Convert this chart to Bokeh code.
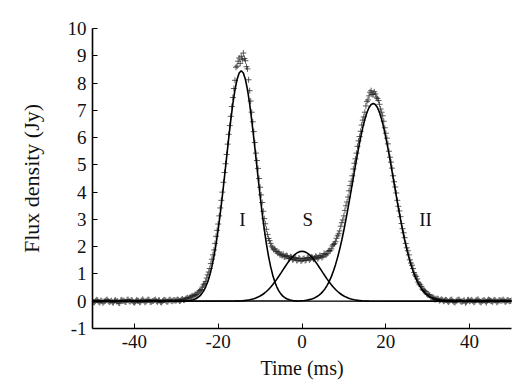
import numpy as np
from bokeh.plotting import figure
from bokeh.models import Range1d, FixedTicker, Label
from bokeh.embed import file_html
from bokeh.resources import INLINE

# ---- data (samples every 0.25 ms) ----
data_time = np.arange(-50, 50.001, 0.25)
data_flux = [
    # -50 .. -30.25
    0.02, -0.03, -0.04, 0.01, 0.05, 0.03, -0.02, -0.05, 0.03, 0.00,
    -0.06, -0.02, 0.01, 0.04, 0.06, 0.01, -0.03, -0.01, 0.02, -0.04,
    -0.05, 0.02, 0.04, -0.01, 0.00, -0.06, -0.07, 0.03, 0.05, 0.01,
    0.02, -0.02, -0.03, 0.05, 0.06, 0.00, -0.01, 0.04, 0.03, -0.03,
    -0.06, -0.01, 0.04, 0.02, 0.01, -0.04, -0.02, 0.03, 0.07, 0.02,
    -0.04, -0.01, 0.02, 0.06, 0.05, -0.02, -0.03, 0.01, 0.01, 0.04,
    0.06, 0.00, -0.02, 0.03, 0.03, -0.03, -0.05, 0.01, 0.04, 0.05,
    0.02, -0.02, -0.01, 0.04, 0.06, 0.02, 0.00, 0.03, 0.04, 0.02,
    # -30 .. 34
    0.03, 0.06, 0.05, 0.01, 0.02, 0.06, 0.08, 0.04,
    0.05, 0.09, 0.11, 0.13, 0.09, 0.14, 0.16, 0.20,
    0.18, 0.21, 0.25, 0.23, 0.27, 0.33, 0.38, 0.39,
    0.43, 0.52, 0.60, 0.64, 0.72, 0.85, 0.97, 1.07,
    1.20, 1.38, 1.54, 1.70, 1.88, 2.12, 2.38, 2.60,
    2.83, 3.13, 3.42, 3.70, 4.00, 4.36, 4.72, 5.04,
    5.38, 5.76, 6.12, 6.44, 6.78, 7.14, 7.47, 7.80,
    8.10, 8.58, 8.62, 8.80, 8.92, 8.72, 8.98, 8.86,
    9.10, 8.90, 8.82, 8.60, 8.52, 8.12, 7.72, 7.34,
    6.93, 6.58, 6.22, 5.82, 5.43, 5.16, 4.87, 4.50,
    4.18, 3.90, 3.62, 3.30, 3.03, 2.84, 2.64, 2.45,
    2.30, 2.22, 2.12, 2.02, 1.96, 1.89, 1.92, 1.84,
    1.82, 1.76, 1.80, 1.70, 1.72, 1.67, 1.73, 1.62,
    1.64, 1.68, 1.66, 1.56, 1.58, 1.63, 1.61, 1.52,
    1.54, 1.60, 1.57, 1.49, 1.51, 1.58, 1.56, 1.47,
    1.50, 1.55, 1.57, 1.49, 1.52, 1.60, 1.58, 1.51,
    1.55, 1.62, 1.60, 1.54, 1.58, 1.65, 1.62, 1.56,
    1.60, 1.68, 1.66, 1.60, 1.64, 1.75, 1.72, 1.69,
    1.74, 1.83, 1.86, 1.85, 1.92, 2.03, 2.08, 2.11,
    2.18, 2.31, 2.40, 2.47, 2.58, 2.75, 2.88, 2.98,
    3.13, 3.33, 3.50, 3.64, 3.82, 4.05, 4.24, 4.40,
    4.60, 4.85, 5.06, 5.22, 5.43, 5.68, 5.88, 6.04,
    6.23, 6.46, 6.64, 6.76, 6.93, 7.16, 7.32, 7.38,
    7.53, 7.66, 7.72, 7.58, 7.60, 7.68, 7.60, 7.48,
    7.43, 7.36, 7.22, 7.05, 6.93, 6.80, 6.60, 6.36,
    6.16, 5.98, 5.77, 5.50, 5.28, 5.10, 4.88, 4.60,
    4.38, 4.19, 3.97, 3.70, 3.48, 3.31, 3.10, 2.85,
    2.66, 2.51, 2.33, 2.12, 1.96, 1.85, 1.70, 1.52,
    1.40, 1.32, 1.20, 1.05, 0.96, 0.91, 0.82, 0.70,
    0.63, 0.60, 0.54, 0.44, 0.40, 0.39, 0.35, 0.27,
    0.24, 0.25, 0.22, 0.15, 0.13, 0.15, 0.12, 0.06,
    0.07, 0.10, 0.08, 0.02, 0.04, 0.07, 0.05, 0.00,
    0.02,
    # 34.25 .. 50
    0.05, 0.04, 0.00, -0.03, 0.02, 0.05, 0.06, 0.01, -0.03, -0.05,
    0.00, 0.03, 0.05, 0.06, 0.01, -0.02, -0.01, 0.02, 0.03, -0.06,
    -0.02, 0.04, 0.05, 0.00, 0.02, 0.05, 0.01, -0.04, -0.02, 0.03,
    0.05, 0.07, 0.02, -0.03, -0.04, 0.01, 0.03, 0.04, 0.00, -0.05,
    0.02, 0.06, 0.04, 0.02, 0.00, -0.02, 0.03, 0.05, 0.02, -0.04,
    -0.01, 0.03, 0.04, 0.01, 0.03, 0.06, 0.02, -0.03, 0.00, 0.04,
    0.03, 0.00, 0.01, 0.03,
]
assert len(data_flux) == len(data_time), (len(data_flux), len(data_time))

# component I (fitted curve)
comp_I_time = np.concatenate(([-50.0], np.arange(-28, -0.5, 0.5), [50.0]))
comp_I_flux = [0.0,
    0.007, 0.012, 0.020, 0.033, 0.051, 0.079, 0.120, 0.178, 0.260, 0.371,
    0.520, 0.715, 0.965, 1.276, 1.656, 2.107, 2.631, 3.221, 3.868, 4.558,
    5.268, 5.971, 6.639, 7.242, 7.748, 8.131, 8.369,
    8.450,
    8.369, 8.131, 7.748, 7.242, 6.639, 5.971, 5.268, 4.558, 3.868, 3.221,
    2.631, 2.107, 1.656, 1.276, 0.965, 0.715, 0.520, 0.371, 0.260, 0.178,
    0.120, 0.079, 0.051, 0.033, 0.020, 0.012, 0.007,
    0.0]

# component S
comp_S_time = np.concatenate(([-50.0], np.arange(-16, 16.5, 0.5), [50.0]))
comp_S_flux = [0.0,
    0.006, 0.008, 0.011, 0.016, 0.022, 0.030, 0.040, 0.053, 0.070, 0.092,
    0.118, 0.151, 0.190, 0.237, 0.293, 0.357, 0.430, 0.512, 0.604, 0.703,
    0.810, 0.923, 1.039, 1.157, 1.274, 1.387, 1.493, 1.589, 1.672, 1.739,
    1.789, 1.820,
    1.830,
    1.820, 1.789, 1.739, 1.672, 1.589, 1.493, 1.387, 1.274, 1.157, 1.039,
    0.923, 0.810, 0.703, 0.604, 0.512, 0.430, 0.357, 0.293, 0.237, 0.190,
    0.151, 0.118, 0.092, 0.070, 0.053, 0.040, 0.030, 0.022, 0.016, 0.011,
    0.008, 0.006,
    0.0]

# component II
comp_II_time = np.concatenate(([-50.0], np.arange(-1, 35.5, 0.5), [50.0]))
comp_II_flux = [0.0,
    0.008, 0.012, 0.018, 0.025, 0.035, 0.049, 0.067, 0.091, 0.122, 0.163,
    0.214, 0.280, 0.361, 0.461, 0.583, 0.729, 0.903, 1.106, 1.341, 1.609,
    1.911, 2.246, 2.612, 3.007, 3.425, 3.861, 4.307, 4.755, 5.195, 5.617,
    6.010, 6.365, 6.670, 6.918, 7.101, 7.212,
    7.250,
    7.212, 7.101, 6.918, 6.670, 6.365, 6.010, 5.617, 5.195, 4.755, 4.307,
    3.861, 3.425, 3.007, 2.612, 2.246, 1.911, 1.609, 1.341, 1.106, 0.903,
    0.729, 0.583, 0.461, 0.361, 0.280, 0.214, 0.163, 0.122, 0.091, 0.067,
    0.049, 0.035, 0.025, 0.018, 0.012, 0.008,
    0.0]

comp_labels = ["I", "S", "II"]
comp_label_x = [-14.2, 1.4, 29.5]
comp_label_y = [3.0, 3.0, 3.0]

x_ticks = [-40, -20, 0, 20, 40]
y_ticks = list(range(-1, 11))

FONT = "Liberation Serif"

p = figure(frame_width=419, frame_height=300, x_range=Range1d(-50, 50), y_range=Range1d(-1, 10),
           output_backend="svg", toolbar_location=None,
           min_border_left=92, min_border_right=6, min_border_top=28, min_border_bottom=54)
p.outline_line_color = None
p.grid.visible = False
p.background_fill_color = "white"
p.border_fill_color = "white"

p.scatter(data_time, data_flux, marker="cross", size=6, line_color="#1e1e1e",
          line_width=0.9, line_alpha=0.8)

for t, f in [(comp_I_time, comp_I_flux), (comp_S_time, comp_S_flux), (comp_II_time, comp_II_flux)]:
    p.line(t, f, line_color="black", line_width=1.6)

for lab, lx, ly in zip(comp_labels, comp_label_x, comp_label_y):
    p.add_layout(Label(x=lx, y=ly, text=lab, text_font=FONT, text_font_size="19px",
                       text_align="center", text_baseline="middle", text_color="#111111"))

for ax in (p.xaxis[0], p.yaxis[0]):
    ax.major_label_text_font = FONT
    ax.major_label_text_font_size = "19px"
    ax.major_label_text_color = "#111111"
    ax.axis_label_text_font = FONT
    ax.axis_label_text_font_style = "normal"
    ax.axis_label_text_color = "#111111"
    ax.axis_line_width = 1.6
    ax.axis_line_color = "black"
    ax.major_tick_in = 5
    ax.major_tick_out = 0
    ax.major_tick_line_color = "black"
    ax.minor_tick_line_color = None

p.xaxis.ticker = FixedTicker(ticks=x_ticks)
p.yaxis.ticker = FixedTicker(ticks=y_ticks)
p.xaxis.major_label_overrides = {t: str(t) for t in x_ticks}
p.yaxis.major_label_overrides = {t: str(t) for t in y_ticks}
p.xaxis.axis_label = "Time (ms)"
p.yaxis.axis_label = "Flux density (Jy)"
p.xaxis.axis_label_text_font_size = "20px"
p.yaxis.axis_label_text_font_size = "22px"
p.xaxis.major_label_standoff = 6
p.yaxis.major_label_standoff = 6
p.xaxis.axis_label_standoff = 6
p.yaxis.axis_label_standoff = 21

open("out.html", "w").write(file_html(p, INLINE))
